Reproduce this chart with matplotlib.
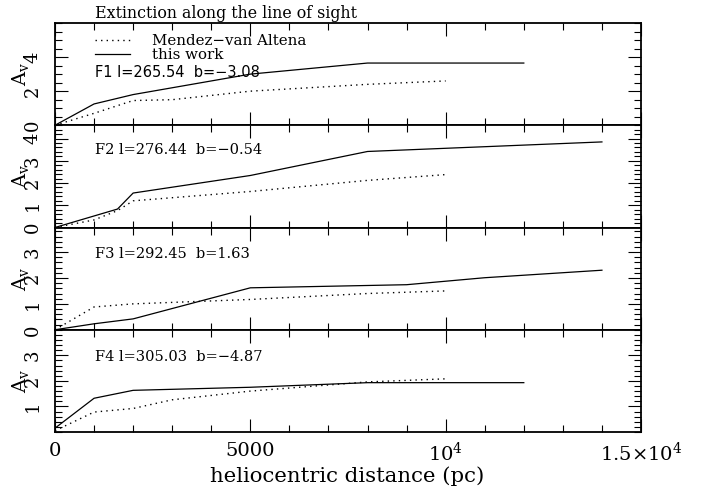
import matplotlib
matplotlib.use('Agg')
import matplotlib.pyplot as plt
from matplotlib.ticker import FixedLocator, MultipleLocator

plt.rcParams['font.family'] = ['DejaVu Serif']
plt.rcParams['mathtext.fontset'] = 'dejavuserif'

# ---------------- data ----------------
# distances (pc) and A_V for each field
f1_mva_d = [0, 1000, 2000, 3000, 5000, 8000, 10000]
f1_mva_av = [0, 0.7, 1.45, 1.5, 2.0, 2.4, 2.6]
f1_tw_d = [0, 1000, 2000, 5000, 8000, 12000]
f1_tw_av = [0, 1.25, 1.8, 3.0, 3.65, 3.65]

f2_mva_d = [0, 1000, 1600, 2000, 5000, 8000, 10000]
f2_mva_av = [0, 0.34, 0.76, 1.2, 1.62, 2.12, 2.38]
f2_tw_d = [0, 1600, 2000, 5000, 8000, 14000]
f2_tw_av = [0, 0.83, 1.55, 2.34, 3.42, 3.85]

f3_mva_d = [0, 1000, 2000, 5000, 8000, 10000]
f3_mva_av = [0, 0.88, 1.0, 1.17, 1.4, 1.5]
f3_tw_d = [0, 1000, 2000, 5000, 9000, 11000, 14000]
f3_tw_av = [0, 0.23, 0.42, 1.62, 1.74, 2.01, 2.3]

f4_mva_d = [0, 1000, 2000, 3000, 5000, 8000, 10000]
f4_mva_av = [0.05, 0.78, 0.92, 1.26, 1.6, 1.96, 2.08]
f4_tw_d = [0, 1000, 2000, 5000, 8000, 12000]
f4_tw_av = [0.15, 1.32, 1.63, 1.75, 1.93, 1.93]

field_labels = ["F1 l=265.54  b=\u22123.08", "F2 l=276.44  b=\u22120.54",
                "F3 l=292.45  b=1.63", "F4 l=305.03  b=\u22124.87"]
ylims = [6.0, 4.6, 3.95, 4.0]
ytick_major = [[0, 2, 4], [0, 1, 2, 3, 4], [0, 1, 2, 3], [1, 2, 3]]
ytick_labels = [["0", "2", "4"], ["0", "1", "2", "3", "4"], ["0", "1", "2", "3"], ["1", "2", "3"]]
ytick_minor = [0.5, 0.2, 0.2, 0.2]
xtick_major = [0, 5000, 10000, 15000]
xtick_labels = ["0", "5000", r"$10^4$", r"$1.5{\times}10^4$"]
legend_labels = ["Mendez\u2212van Altena", "this work"]
title = "Extinction along the line of sight"
xlabel = "heliocentric distance (pc)"
ylabel = r"A$_{\rm v}$"

mva = [(f1_mva_d, f1_mva_av), (f2_mva_d, f2_mva_av), (f3_mva_d, f3_mva_av), (f4_mva_d, f4_mva_av)]
tw = [(f1_tw_d, f1_tw_av), (f2_tw_d, f2_tw_av), (f3_tw_d, f3_tw_av), (f4_tw_d, f4_tw_av)]
label_y = [0.517, 0.756, 0.745, 0.735]

# ---------------- figure ----------------
W, H = 703, 498
fig = plt.figure(figsize=(W / 100, H / 100), dpi=100)
x0, x1 = 55, 641
y_top, y_bot = 23, 432
ph = (y_bot - y_top) / 4.0

axes = []
for i in range(4):
    top = y_top + i * ph
    ax = fig.add_axes([x0 / W, 1 - (top + ph) / H, (x1 - x0) / W, ph / H])
    axes.append(ax)
    ax.plot(mva[i][0], mva[i][1], color='black', lw=1.0, linestyle=(0, (1, 3)),
            label=legend_labels[0])
    ax.plot(tw[i][0], tw[i][1], color='black', lw=0.9, linestyle='-',
            label=legend_labels[1])
    ax.set_xlim(0, 15000)
    ax.set_ylim(0, ylims[i])
    for s in ax.spines.values():
        s.set_linewidth(1.3)
    ax.xaxis.set_major_locator(FixedLocator(xtick_major))
    ax.xaxis.set_minor_locator(MultipleLocator(1000))
    ax.yaxis.set_minor_locator(MultipleLocator(ytick_minor[i]))
    ax.set_yticks(ytick_major[i], ytick_labels[i])
    ax.tick_params(which='both', direction='in', top=True, right=True, width=0.8)
    ax.tick_params(which='major', length=9.5)
    ax.tick_params(which='minor', length=4.7)
    ax.tick_params(axis='y', labelsize=13, pad=16)
    for lbl in ax.get_yticklabels():
        lbl.set_rotation(90)
        lbl.set_ha('center')
        lbl.set_va('center')
    if i < 3:
        ax.set_xticks(xtick_major, [""] * len(xtick_major))
    else:
        ax.set_xticks(xtick_major, xtick_labels)
        ax.tick_params(axis='x', labelsize=14, pad=7)
        ax.set_xlabel(xlabel, fontsize=15.3)
        ax.xaxis.set_label_coords((347 - x0) / (x1 - x0), -0.43)
        ax.xaxis.label.set_va('center')
    ax.set_ylabel(ylabel, fontsize=14)
    ax.yaxis.set_label_coords((20 - x0) / (x1 - x0), 0.5)
    ax.yaxis.label.set_va('center')
    ax.text((95 - x0) / (x1 - x0), label_y[i], field_labels[i], transform=ax.transAxes,
            ha='left', va='center', fontsize=10.5,
            family='DejaVu Sans' if i == 0 else 'DejaVu Serif')

axes[0].legend(loc='upper left', bbox_to_anchor=(95 / W, 1 - 34 / H),
               bbox_transform=fig.transFigure, frameon=False, borderpad=0,
               borderaxespad=0, handlelength=2.3, handletextpad=1.5,
               labelspacing=0.0, fontsize=10.8)

fig.text(95 / W, 1 - 13 / H, title, ha='left', va='center', fontsize=11.4)

fig.savefig('out.png', dpi=100)
